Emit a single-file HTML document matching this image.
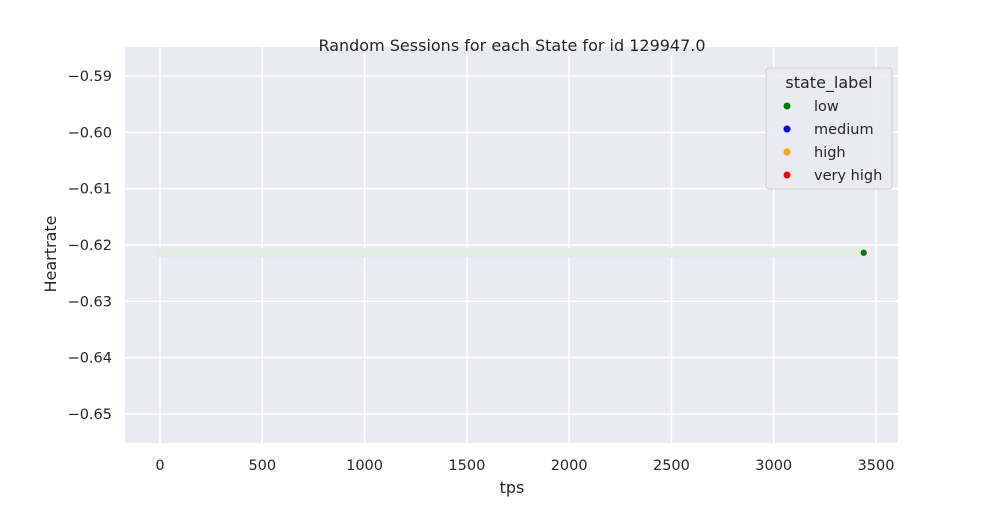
<!DOCTYPE html>
<html><head><meta charset="utf-8"><style>
body{margin:0;background:#fff;}
svg{font-family:"DejaVu Sans","Liberation Sans",sans-serif;}
</style></head><body>
<svg id="chart" width="1000" height="500">
<rect x="0" y="0" width="1000" height="500" fill="#fff"/>
<rect x="125" y="47" width="773" height="396" fill="#eaeaf2"/>
<g id="grid"></g>
<g id="marks"></g>
<text x="512" y="51" font-size="16" text-anchor="middle" fill="#262626">Random Sessions for each State for id 129947.0</text>
<text x="512" y="493" font-size="16" text-anchor="middle" fill="#262626">tps</text>
<text x="56" y="254" font-size="16" text-anchor="middle" fill="#262626" transform="rotate(-90 56 254)">Heartrate</text>
<g>
<rect x="766" y="68" width="126" height="121" rx="3" fill="#eaeaf2" stroke="#cccccc" opacity="0.9"/>
<text x="829" y="88" font-size="16" text-anchor="middle" fill="#262626">state_label</text>
<g id="legend-items"></g>
</g>
</svg>
<script>
const xTicks=[0,500,1000,1500,2000,2500,3000,3500];
const yTicks=[-0.59,-0.60,-0.61,-0.62,-0.63,-0.64,-0.65];
const sessionX=[0,3440];
const sessionY=[-0.6212,-0.6212];
const pointX=[3440];
const pointY=[-0.6212];
const legendLabels=["low","medium","high","very high"];
const legendColors=["green","blue","orange","red"];
const NS="http://www.w3.org/2000/svg";
const xs=v=>160+v*(716/3500);
const ys=v=>76+(-0.59-v)*5633;
function mk(t,a,p){const e=document.createElementNS(NS,t);for(const k in a)e.setAttribute(k,a[k]);p.appendChild(e);return e;}
const grid=document.getElementById('grid'),svg=document.getElementById('chart');
xTicks.forEach(v=>{const x=xs(v);
const l=mk('line',{x1:x,x2:x,y1:47,y2:443,stroke:'#fff','stroke-width':1.5},grid);


const t=mk('text',{x:x,y:470,'font-size':14.5,'text-anchor':'middle',fill:'#262626'},svg);t.textContent=v;

});
yTicks.forEach(v=>{const y=ys(v);
const l=mk('line',{x1:125,x2:898,y1:y,y2:y,stroke:'#fff','stroke-width':1.5},grid);


const t=mk('text',{x:112,y:y+5,'font-size':14.5,'text-anchor':'end',fill:'#262626'},svg);t.textContent='\u2212'+Math.abs(v).toFixed(2);

});
const marks=document.getElementById('marks');
const ln=mk('polyline',{points:sessionX.map((x,i)=>xs(x)+','+(ys(sessionY[i])+1)).join(' '),stroke:'#e1ede0','stroke-width':9,'stroke-linecap':'round',fill:'none'},marks);


pointX.forEach((x,i)=>{const c=mk('circle',{cx:xs(x),cy:ys(pointY[i])+1,r:3.5,fill:'green',stroke:'#fff','stroke-width':0.6},marks);

});
const li=document.getElementById('legend-items');
legendLabels.forEach((n,i)=>{const y=106+i*23;
const c=mk('circle',{cx:787,cy:y,r:3.5,fill:legendColors[i]},li);


const t=mk('text',{x:814,y:y+5,'font-size':14.5,fill:'#262626'},li);t.textContent=n;

});
</script>
</body></html>
